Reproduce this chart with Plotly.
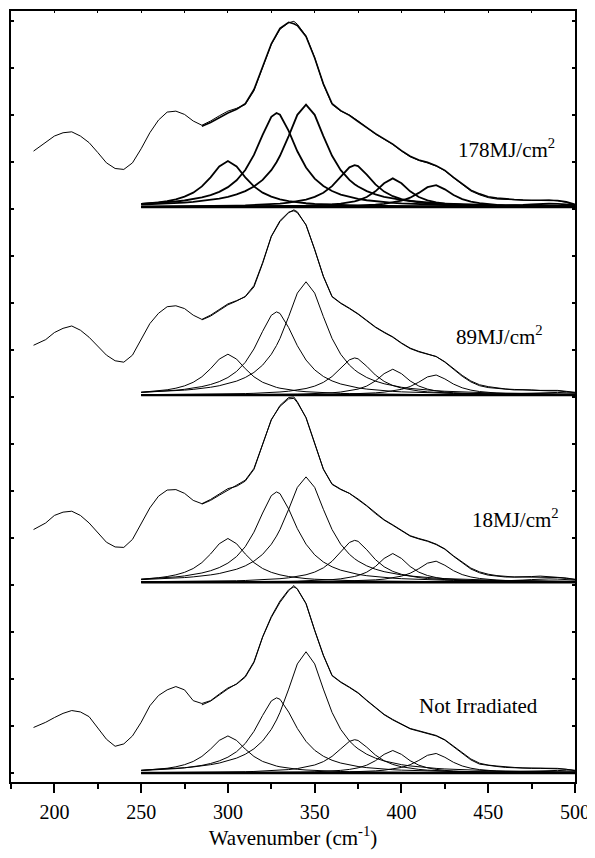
import numpy as np
import plotly.graph_objects as go

# ---------------- data ----------------
wn_spec = [188, 195, 200, 205, 210, 215, 220, 225, 230, 235, 240, 245, 250, 255, 260, 265, 270,
           275, 280, 285, 290, 295, 300, 305, 310, 315, 320, 325, 330, 335, 338, 340, 345, 350,
           355, 360, 365, 370, 375, 380, 385, 390, 395, 400, 405, 410, 415, 420, 425, 430, 435,
           440, 445, 450, 455, 460, 465, 470, 475, 480, 485, 490, 495, 500]

spec_178 = [1.19, 1.37, 1.51, 1.58, 1.60, 1.51, 1.37, 1.16, 0.94, 0.82, 0.80, 0.94, 1.24, 1.58, 1.85,
            2.02, 2.04, 1.97, 1.83, 1.74, 1.83, 1.94, 2.04, 2.10, 2.18, 2.47, 2.96, 3.46, 3.78, 3.92,
            3.95, 3.89, 3.64, 3.18, 2.61, 2.18, 2.04, 1.96, 1.83, 1.69, 1.55, 1.44, 1.33, 1.19, 1.07,
            0.99, 0.94, 0.87, 0.77, 0.62, 0.48, 0.34, 0.26, 0.20, 0.17, 0.16, 0.15, 0.14, 0.14, 0.14,
            0.15, 0.13, 0.10, 0.04]
spec_89 = [1.06, 1.18, 1.33, 1.42, 1.47, 1.38, 1.23, 1.03, 0.85, 0.73, 0.70, 0.85, 1.17, 1.52, 1.74,
           1.88, 1.90, 1.84, 1.70, 1.61, 1.70, 1.82, 1.94, 2.01, 2.09, 2.30, 2.80, 3.37, 3.69, 3.88,
           3.94, 3.90, 3.62, 3.09, 2.52, 2.09, 1.95, 1.84, 1.72, 1.58, 1.44, 1.33, 1.23, 1.10, 0.99,
           0.92, 0.87, 0.82, 0.70, 0.55, 0.40, 0.28, 0.20, 0.16, 0.14, 0.12, 0.11, 0.11, 0.10, 0.09,
           0.09, 0.09, 0.07, 0.05]
spec_18 = [1.12, 1.26, 1.42, 1.49, 1.51, 1.42, 1.26, 1.05, 0.85, 0.75, 0.74, 0.91, 1.23, 1.58, 1.83,
           1.96, 1.97, 1.89, 1.74, 1.67, 1.76, 1.87, 1.99, 2.04, 2.15, 2.40, 2.93, 3.46, 3.74, 3.90,
           3.91, 3.82, 3.50, 2.96, 2.40, 2.08, 1.97, 1.89, 1.76, 1.62, 1.46, 1.32, 1.21, 1.09, 0.98,
           0.92, 0.87, 0.80, 0.70, 0.55, 0.41, 0.28, 0.20, 0.15, 0.13, 0.11, 0.11, 0.11, 0.12, 0.13,
           0.12, 0.11, 0.09, 0.06]
spec_0 = [0.97, 1.08, 1.18, 1.27, 1.33, 1.30, 1.20, 0.97, 0.72, 0.57, 0.62, 0.79, 1.08, 1.43, 1.65,
          1.77, 1.84, 1.77, 1.54, 1.48, 1.54, 1.68, 1.81, 1.89, 2.04, 2.35, 2.89, 3.31, 3.63, 3.88,
          3.99, 3.91, 3.60, 3.03, 2.50, 2.07, 1.93, 1.82, 1.70, 1.54, 1.38, 1.24, 1.13, 1.03, 0.94,
          0.89, 0.84, 0.79, 0.70, 0.56, 0.42, 0.28, 0.19, 0.16, 0.14, 0.12, 0.11, 0.10, 0.10, 0.10,
          0.10, 0.09, 0.08, 0.05]

wn_fit = [285, 290, 295, 300, 305, 310, 315, 320, 325, 330, 335, 338, 340, 345, 350, 355, 360, 365,
          370, 375, 380, 385, 390, 395, 400, 405, 410, 415, 420, 425, 430, 435, 440, 445, 450, 455,
          460, 465, 470, 475, 480, 485, 490, 495, 500]
fit_178 = [1.72, 1.80, 1.90, 2.00, 2.08, 2.20, 2.50, 2.98, 3.47, 3.80, 3.93, 3.90, 3.86, 3.63, 3.17,
           2.62, 2.20, 2.05, 1.95, 1.82, 1.69, 1.56, 1.45, 1.34, 1.20, 1.08, 1.00, 0.95, 0.88, 0.78,
           0.63, 0.49, 0.36, 0.28, 0.22, 0.19, 0.17, 0.16, 0.15, 0.15, 0.15, 0.15, 0.14, 0.11, 0.06]
fit_89 = [1.60, 1.68, 1.80, 1.92, 2.00, 2.10, 2.33, 2.82, 3.38, 3.71, 3.89, 3.92, 3.88, 3.62, 3.10,
          2.53, 2.10, 1.96, 1.85, 1.73, 1.59, 1.45, 1.34, 1.24, 1.11, 1.00, 0.93, 0.88, 0.82, 0.71,
          0.56, 0.42, 0.30, 0.22, 0.18, 0.15, 0.13, 0.12, 0.12, 0.11, 0.10, 0.10, 0.10, 0.08, 0.06]
fit_18 = [1.66, 1.74, 1.85, 1.96, 2.06, 2.17, 2.42, 2.94, 3.45, 3.76, 3.93, 3.94, 3.84, 3.50, 2.97,
          2.41, 2.09, 1.98, 1.89, 1.77, 1.63, 1.47, 1.33, 1.22, 1.10, 0.99, 0.93, 0.88, 0.81, 0.71,
          0.56, 0.43, 0.30, 0.22, 0.17, 0.14, 0.12, 0.11, 0.11, 0.11, 0.11, 0.11, 0.10, 0.08, 0.06]
fit_0 = [1.45, 1.53, 1.66, 1.79, 1.90, 2.06, 2.37, 2.90, 3.33, 3.66, 3.90, 3.96, 3.92, 3.61, 3.04,
         2.51, 2.08, 1.94, 1.83, 1.71, 1.55, 1.39, 1.25, 1.14, 1.04, 0.95, 0.90, 0.85, 0.80, 0.71,
         0.57, 0.43, 0.30, 0.21, 0.17, 0.15, 0.13, 0.12, 0.11, 0.11, 0.11, 0.11, 0.10, 0.08, 0.06]

# fitted Lorentzian components: centre, FWHM (cm-1) and heights per spectrum
peak_centers = [300, 328, 345, 373, 395, 419, 485]
peak_fwhm = [27, 29, 30, 26, 22, 24, 40]
heights_178 = [0.98, 2.00, 2.18, 0.89, 0.61, 0.47, 0.07]
heights_89 = [0.87, 1.77, 2.41, 0.79, 0.55, 0.43, 0.06]
heights_18 = [0.93, 1.92, 2.24, 0.89, 0.61, 0.45, 0.07]
heights_0 = [0.79, 1.60, 2.58, 0.71, 0.48, 0.42, 0.06]
fit_range = [250, 500]

panel_names = ["178MJ/cm<sup>2</sup>", "89MJ/cm<sup>2</sup>", "18MJ/cm<sup>2</sup>", "Not Irradiated"]
x_tick_vals = [200, 250, 300, 350, 400, 450, 500]
x_tick_text = ["200", "250", "300", "350", "400", "450", "500"]

# ---------------- layout / style (not data) ----------------
panel_offsets = [12.04, 8.04, 4.06, 0.0]
label_pos = [(431.4, 1.24), (430.3, 1.26), (439.5, 1.35), (408.9, 1.42)]
comp_widths = [1.8, 1.0, 1.0, 1.0]
fit_widths = [1.6, 1.0, 1.0, 1.0]

spectra = [spec_178, spec_89, spec_18, spec_0]
fits = [fit_178, fit_89, fit_18, fit_0]
heights = [heights_178, heights_89, heights_18, heights_0]

FONT = "Times New Roman, Liberation Serif, DejaVu Serif, serif"

fig = go.Figure()

comp_x = np.union1d(np.arange(fit_range[0], fit_range[1] + 1, 5), peak_centers)
comp_x = comp_x[(comp_x >= fit_range[0]) & (comp_x <= fit_range[1])]

for i in range(4):
    off = panel_offsets[i]
    # baseline
    fig.add_trace(go.Scatter(x=fit_range, y=[off, off], mode="lines",
                             line=dict(color="black", width=2.4), hoverinfo="skip"))
    # components
    for c, w, h in zip(peak_centers, peak_fwhm, heights[i]):
        y = h / (1.0 + ((comp_x - c) / (w / 2.0)) ** 2) + off
        fig.add_trace(go.Scatter(x=comp_x, y=y, mode="lines",
                                 line=dict(color="black", width=comp_widths[i]), hoverinfo="skip"))
    # measured spectrum
    fig.add_trace(go.Scatter(x=wn_spec, y=np.array(spectra[i]) + off, mode="lines",
                             line=dict(color="black", width=1.0), hoverinfo="skip"))
    # cumulative fit
    fig.add_trace(go.Scatter(x=wn_fit, y=np.array(fits[i]) + off, mode="lines",
                             line=dict(color="black", width=fit_widths[i]), hoverinfo="skip"))
    lx, ly = label_pos[i]
    fig.add_annotation(x=lx, y=ly + off, xref="x", yref="y", text=panel_names[i],
                       showarrow=False, xanchor="left", yanchor="middle",
                       font=dict(family=FONT, size=21, color="black"))

# dummy trace on mirrored axes so that they are drawn
fig.add_trace(go.Scatter(x=[None], y=[None], xaxis="x2", yaxis="y2", mode="lines",
                         showlegend=False, hoverinfo="skip"))

XR = [175, 500]
YR = [-0.19, 16.21]

# the page body adds an 8 px offset, so margins are reduced on the top/left accordingly
fig.update_layout(
    width=595, height=858,
    margin=dict(l=3, r=28, t=3, b=84, autoexpand=False),
    paper_bgcolor="white", plot_bgcolor="white",
    showlegend=False,
    font=dict(family=FONT, size=21, color="black"),
    xaxis=dict(range=XR, showgrid=False, zeroline=False, showline=True, linecolor="black",
               linewidth=2, ticks="outside", ticklen=9, tickwidth=2, tickcolor="black",
               tickvals=x_tick_vals, ticktext=x_tick_text, ticklabelstandoff=2,
               automargin=False,
               tickfont=dict(family=FONT, size=20, color="black"),
               minor=dict(ticks="outside", ticklen=5, tickwidth=2, tickcolor="black",
                          tick0=225, dtick=50, showgrid=False),
               title=dict(text="Wavenumber (cm<sup>-1</sup>)", standoff=7,
                          font=dict(family=FONT, size=21, color="black"))),
    yaxis=dict(range=YR, showgrid=False, zeroline=False, showline=True, linecolor="black",
               linewidth=2, ticks="inside", ticklen=3, tickwidth=2, tickcolor="black",
               tick0=0, dtick=1, showticklabels=False, automargin=False),
    xaxis2=dict(range=XR, overlaying="x", side="top", showgrid=False, zeroline=False,
                showline=True, linecolor="black", linewidth=2, ticks="inside", ticklen=2,
                tickwidth=1, tickcolor="black", tick0=200, dtick=25, showticklabels=False,
                automargin=False),
    yaxis2=dict(range=YR, overlaying="y", side="right", showgrid=False, zeroline=False,
                showline=True, linecolor="black", linewidth=2, ticks="inside", ticklen=3,
                tickwidth=2, tickcolor="black", tick0=0, dtick=1, showticklabels=False,
                automargin=False),
)

fig.write_html("out.html")
